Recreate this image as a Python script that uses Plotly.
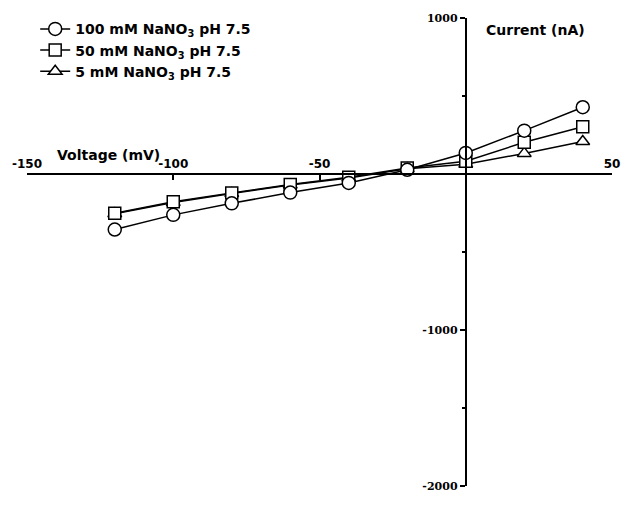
import plotly.graph_objects as go

# Membrane voltage steps (mV)
voltage = [-120, -100, -80, -60, -40, -20, 0, 20, 40]

# Steady-state current (nA) for each nitrate concentration
current_100mM = [-356, -262, -188, -119, -57, 27, 135, 278, 428]
current_50mM = [-251, -178, -121, -67, -21, 38, 82, 203, 303]
current_5mM = [-255, -182, -125, -71, -25, 33, 62, 132, 208]

labels = [
    "100 mM NaNO<sub>3</sub> pH 7.5",
    "50 mM NaNO<sub>3</sub> pH 7.5",
    "5 mM NaNO<sub>3</sub> pH 7.5",
]

x_ticks = [-150, -100, -50, 50]
y_ticks = [1000, -1000, -2000]
y_minor = [500, -500, -1500]

x_range = [-150, 50]
y_range = [-2000, 1000]

SANS = "DejaVu Sans, Verdana, sans-serif"
SERIF = "DejaVu Serif, Georgia, serif"

fig = go.Figure()

# drawn back to front: 5 mM, 50 mM, 100 mM; legend lists 100 mM first
series = [
    (current_5mM, labels[2], "triangle-up", 12, 3),
    (current_50mM, labels[1], "square", 12, 2),
    (current_100mM, labels[0], "circle", 13, 1),
]
for values, name, symbol, size, rank in series:
    fig.add_trace(go.Scatter(
        x=voltage, y=values, name=name, mode="lines+markers",
        line=dict(color="black", width=1.5),
        marker=dict(symbol=symbol, size=size, color="white",
                    line=dict(color="black", width=1.5)),
        legendrank=rank,
    ))

fig.update_layout(
    width=632, height=505,
    margin=dict(l=27, r=18, t=15, b=12),
    paper_bgcolor="white", plot_bgcolor="white",
    showlegend=True,
    legend=dict(
        x=0.014, y=1.01, xanchor="left", yanchor="top",
        bgcolor="rgba(0,0,0,0)",
        font=dict(family=SANS, size=14, color="black", weight="bold"),
        tracegroupgap=0,
    ),
    xaxis=dict(
        range=x_range, domain=[0, 1],
        anchor="free", position=(0 - y_range[0]) / (y_range[1] - y_range[0]),
        side="top", showline=True, linecolor="black", linewidth=2,
        ticks="inside", ticklen=5, tickwidth=2, tickcolor="black",
        tickvals=x_ticks, ticktext=[str(v) for v in x_ticks],
        tickfont=dict(family=SANS, size=12, color="black", weight="bold"),
        showgrid=False, zeroline=False,
    ),
    yaxis=dict(
        range=y_range, domain=[0, 1],
        anchor="free", position=(0 - x_range[0]) / (x_range[1] - x_range[0]),
        side="left", showline=True, linecolor="black", linewidth=2,
        ticks="outside", ticklen=5, tickwidth=2, tickcolor="black",
        tickvals=y_ticks, ticktext=[str(v) for v in y_ticks],
        tickfont=dict(family=SERIF, size=11, color="black", weight="bold"),
        minor=dict(tickvals=y_minor, ticks="outside", ticklen=3,
                   tickwidth=2, tickcolor="black"),
        showgrid=False, zeroline=False,
    ),
    annotations=[
        dict(text="Voltage (mV)", x=-122, y=0, xref="x", yref="y",
             xanchor="center", yanchor="bottom", yshift=9, showarrow=False,
             font=dict(family=SANS, size=14, color="black", weight="bold")),
        dict(text="Current (nA)", x=24, y=920, xref="x", yref="y",
             xanchor="center", yanchor="middle", showarrow=False,
             font=dict(family=SANS, size=14, color="black", weight="bold")),
    ],
)

fig.write_html("out.html")
